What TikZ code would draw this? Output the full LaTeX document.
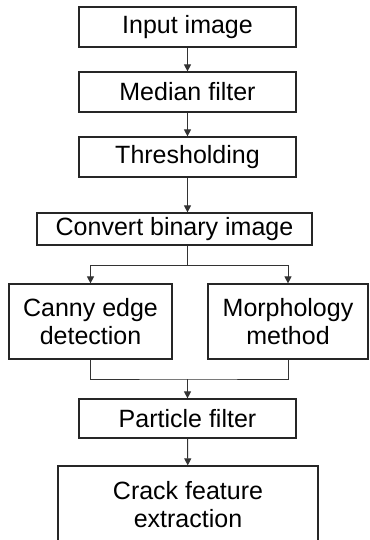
\documentclass[tikz,border=0pt]{standalone}
\usepackage{fontspec}
\setmainfont{Liberation Sans}
\usetikzlibrary{positioning,calc,arrows.meta}

\begin{document}
\begin{tikzpicture}[
    x=1pt, y=-1pt,
    stepbox/.style={
        draw=black!85,
        line width=1.2pt,
        fill=white,
        align=center,
        inner sep=0pt,
        font=\fontsize{25}{28}\selectfont
    },
    connector/.style={-{Triangle[length=7pt,width=7pt]}, line width=1pt, draw=black!80},
    joinline/.style={line width=1pt, draw=black!80}
]
    % Page frame
    \useasboundingbox (0,0) rectangle (369,540);

    % Main chain of boxes
    \node[stepbox, minimum width=217pt, minimum height=40pt] (input) at (187.5,27) {Input image};
    \node[stepbox, minimum width=217pt, minimum height=40pt] (median) at (187.5,92) {Median filter};
    \node[stepbox, minimum width=217pt, minimum height=40pt] (thresh) at (187.5,157) {Thresholding};
    \node[stepbox, minimum width=275pt, minimum height=32pt] (convert) at (174.5,229) {Convert binary image};

    % Two parallel branches
    \node[stepbox, minimum width=163pt, minimum height=75pt] (canny) at (90.5,321.5) {Canny edge\\detection};
    \node[stepbox, minimum width=160pt, minimum height=75pt] (morph) at (288,321.5) {Morphology\\method};

    % After the branches join
    \node[stepbox, minimum width=217pt, minimum height=39pt] (particle) at (187.5,418.5) {Particle filter};
    \node[stepbox, minimum width=260pt, minimum height=78pt] (crack) at (188,505) {Crack feature\\extraction};

    % Helper points for split and merge
    \coordinate (split) at (187.5,265);
    \coordinate (merge) at (187.5,379);

    % Connecting arrows
    \draw[connector] (input) -- (median);
    \draw[connector] (median) -- (thresh);
    \draw[connector] (thresh.south) -- (thresh.south |- convert.north);
    \draw[joinline] (split |- convert.south) -- (split);
    \draw[connector] (split) -| (canny.north);
    \draw[connector] (split) -| (morph.north);
    \draw[joinline] (canny.south) |- (merge) -| (morph.south);
    \draw[connector] (merge) -- (particle);
    \draw[connector] (particle) -- (crack);
\end{tikzpicture}
\end{document}
